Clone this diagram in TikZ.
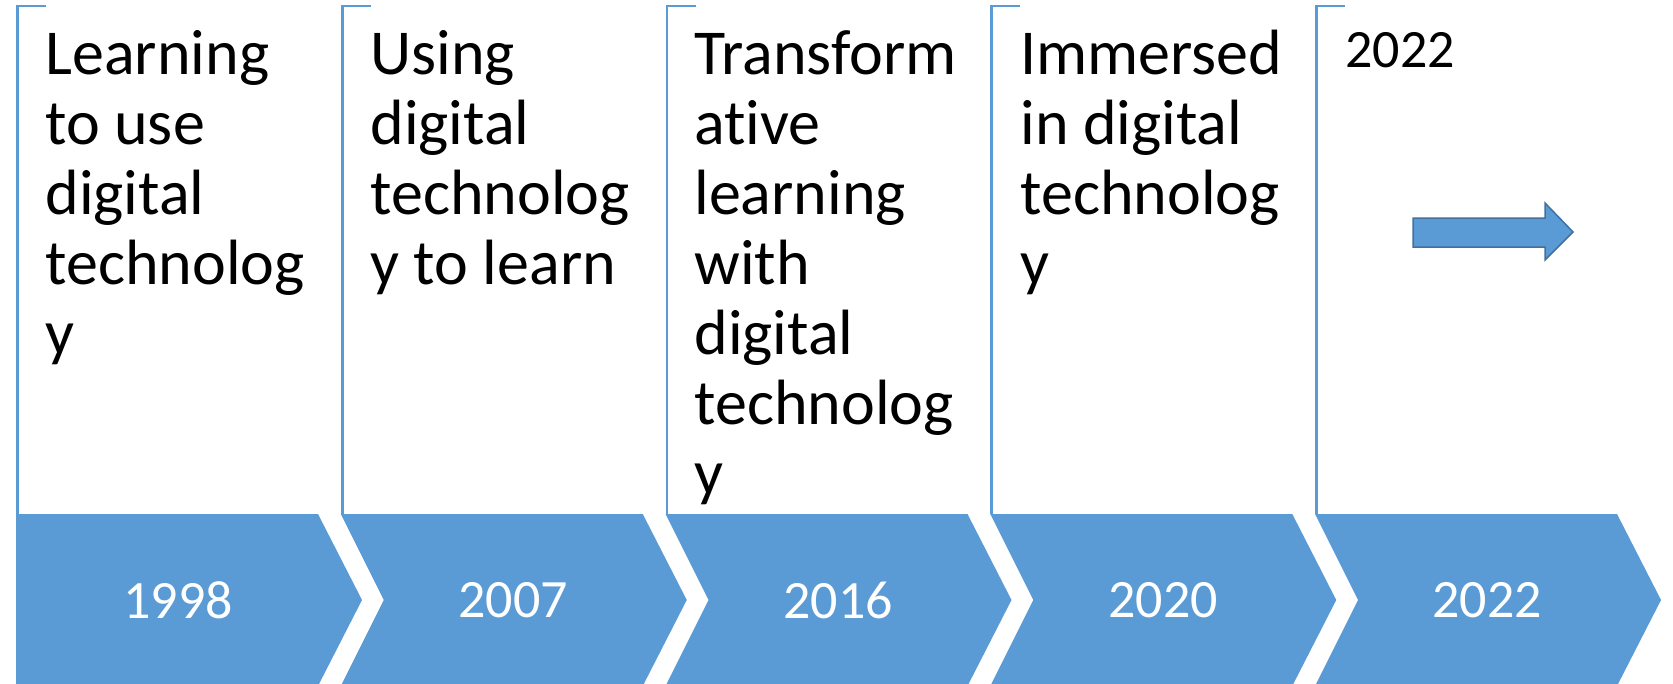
\documentclass[tikz,border=0pt]{standalone}
\usepackage{fontspec}
\setmainfont[Ligatures=NoCommon]{Carlito}
\definecolor{acc}{HTML}{5B9BD5}
\definecolor{accdk}{HTML}{41719C}
\begin{document}
\begin{tikzpicture}[x=0.5pt,y=-0.5pt,
  chev/.style={fill=acc,draw=none},
  brk/.style={draw=acc,line width=1.3pt},
  desc/.style={anchor=base west,inner sep=0pt,font=\fontsize{32}{35}\selectfont},
  yearlbl/.style={text=white,font=\fontsize{27}{30}\selectfont,inner sep=0pt,anchor=center}]
\useasboundingbox (0,0) rectangle (1673,684);
\clip (0,0) rectangle (1673,684);
% chevrons
\fill[chev] (16,514) -- (318,514) -- (362,600) -- (318,686) -- (16,686) -- cycle;
\foreach \L in {340.75,665.5,990.25,1315}
  \fill[chev] (\L,514) -- ++(302,0) -- ++(44,86) -- ++(-44,86) -- ++(-302,0) -- ++(43,-86) -- cycle;
% brackets
\foreach \L in {16,340.75,665.5,990.25,1315}
  \draw[brk] (\L+1.5,514) -- (\L+1.5,6) -- (\L+30,6);
% years
\node[yearlbl] (y1) at (178,600) {1998};
\node[yearlbl] (y2) at (513,600) {2007};
\node[yearlbl] (y3) at (838,600) {2016};
\node[yearlbl] (y4) at (1163,600) {2020};
\node[yearlbl] (y5) at (1487,600) {2022};
% descriptions
\node[desc] (d1) at (45,75) {\parbox[t]{300pt}{Learning\\to use\\digital\\technolog\\y}};
\node[desc] (d2) at (370,75) {\parbox[t]{300pt}{Using\\digital\\technolog\\y to learn}};
\node[desc] (d3) at (694,75) {\parbox[t]{300pt}{Transform\\ative\\learning\\with\\digital\\technolog\\y}};
\node[desc] (d4) at (1020,75) {\parbox[t]{300pt}{Immersed\\in digital\\technolog\\y}};
\node[anchor=base west,inner sep=0pt,font=\fontsize{27}{30}\selectfont] (d5) at (1345,68) {2022};
% small arrow
\filldraw[fill=acc,draw=accdk,line width=0.75pt] (1413,218) -- (1545,218) -- (1545,203) -- (1573,232) -- (1545,260) -- (1545,247) -- (1413,247) -- cycle;
\end{tikzpicture}
\end{document}
